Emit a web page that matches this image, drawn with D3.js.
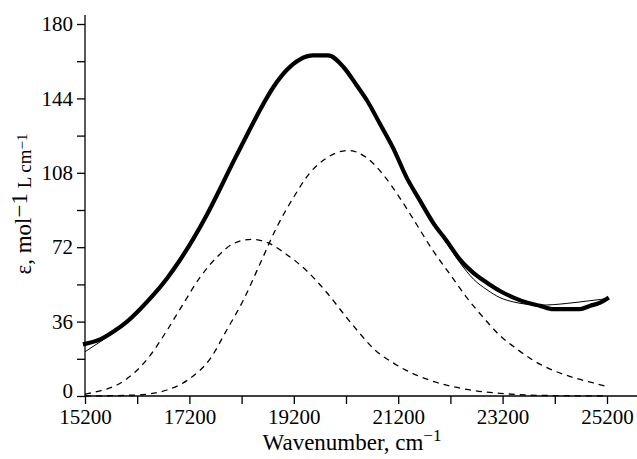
<!DOCTYPE html>
<html>
<head>
<meta charset="utf-8">
<script src="https://cdn.jsdelivr.net/npm/d3@7"></script>
<style>
  body { margin: 0; background: #fff; }
  text { font-family: "Liberation Serif", "Times New Roman", serif; fill: #000; }
</style>
</head>
<body>
<svg id="chart" width="637" height="459"></svg>
<script>
// wavenumber (cm-1) and epsilon values
var EXP_X = [15200, 15490, 15740, 16000, 16250, 16510, 16770, 17020, 17280, 17530, 17790, 18040, 18300,
  18550, 18810, 19060, 19320, 19570, 19860, 20150, 20400, 20600, 20850, 21110, 21360, 21620, 21870,
  22130, 22380, 22640, 22900, 23150, 23410, 23660, 23920, 24170, 24430, 24680, 24870, 25070, 25200];
var EXP_Y = [25.2, 27.4, 31.1, 35.9, 41.9, 48.9, 56.9, 65.8, 76.3, 87.5, 100.4, 113.3, 126.2,
  138.3, 149.5, 157.6, 162.9, 164.8, 164.8, 159.2, 150.5, 143.1, 131.7, 119.6, 105.8, 94.4, 83.8,
  75, 66.1, 59.6, 54.8, 50.8, 47.6, 45.2, 43.6, 42, 42, 42, 43.6, 45.2, 47.1];

var FIT_X = [15200, 15490, 15740, 16000, 16250, 16510, 16770, 17020, 17280, 17530, 17790, 18040, 18300,
  18550, 18810, 19060, 19320, 19570, 19860, 20150, 20400, 20600, 20850, 21110, 21360, 21620, 21870,
  22130, 22380, 22640, 22900, 23150, 23410, 23660, 23920, 24170, 24430, 24680, 24870, 25070, 25200];
var FIT_Y = [21.4, 26.2, 30.6, 35.9, 41.9, 48.9, 56.9, 65.8, 76.3, 87.5, 100.4, 113.3, 126.2,
  138.3, 149.5, 157.6, 162.7, 164.3, 164.2, 159.2, 150.5, 143.1, 131.7, 119.6, 105.8, 94.4, 83.4,
  73.8, 64.6, 56.6, 51.4, 47.6, 45.5, 44.4, 44.0, 44.2, 44.8, 45.5, 46.1, 46.7, 47.1];

var BAND1_X = [15200, 15490, 15810, 16130, 16450, 16770, 17080, 17400, 17720, 18040, 18390, 18740, 19060,
  19450, 19830, 20210, 20470, 20720, 21110, 21550, 22000, 22510, 23150, 23920, 25200];
var BAND1_Y = [0.9, 2.5, 5.3, 10.9, 19.7, 31.7, 44.5, 57.3, 67, 73.7, 75.8, 73.7, 68.5,
  60.5, 50.1, 38, 30.1, 23.1, 15.9, 10.1, 6.1, 3.2, 1.3, 0.3, 0];

var BAND2_X = [15200, 16190, 16770, 17210, 17600, 17910, 18230, 18550, 18870, 19190, 19510, 19830, 20250,
  20600, 20910, 21230, 21550, 21870, 22190, 22510, 22830, 23150, 23470, 23790, 24170, 24560, 24940, 25200];
var BAND2_Y = [0, 0.5, 2.9, 8.5, 18.1, 31.7, 46.2, 63.8, 81.5, 95.9, 108, 115.2, 118.8,
  115.2, 107.2, 95.9, 83.1, 70.2, 59, 47.7, 38, 29.2, 22.8, 17.2, 12.4, 8.9, 6.3, 4.6];

var X_TICKS = [15200, 16200, 17200, 18200, 19200, 20200, 21200, 22200, 23200, 24200, 25200];
var X_LABELS = [15200, 17200, 19200, 21200, 23200, 25200];
var Y_TICKS = [0, 18, 36, 54, 72, 90, 108, 126, 144, 162, 180];
var Y_LABELS = [0, 36, 72, 108, 144, 180];

var svg = d3.select('#chart');

var x = d3.scaleLinear().domain([15200, 25200]).range([85, 607]);
var y = d3.scaleLinear().domain([0, 180]).range([396, 24]);

function zip(xs, ys) { return xs.map(function(v, i) { return [v, ys[i]]; }); }

var line = d3.line()
  .x(function(d) { return x(d[0]); })
  .y(function(d) { return y(d[1]); })
  .curve(d3.curveMonotoneX);

// ----- axes -----
var xAxis = d3.axisBottom(x)
  .tickValues(X_TICKS)
  .tickSize(8)
  .tickFormat(function(d) { return X_LABELS.indexOf(d) >= 0 ? d : ''; });

var gx = svg.append('g')
  .attr('transform', 'translate(0,396)')
  .call(xAxis);
gx.select('.domain').attr('d', 'M85,0H637');
gx.selectAll('text').attr('font-size', 21).attr('dy', '0.85em').attr('y', 10);

var yAxis = d3.axisLeft(y)
  .tickValues(Y_TICKS)
  .tickSize(8)
  .tickFormat(function(d) { return Y_LABELS.indexOf(d) >= 0 ? d : ''; });

var gy = svg.append('g')
  .attr('transform', 'translate(85,0)')
  .call(yAxis);
gy.select('.domain').attr('d', 'M0,396V15');
gy.selectAll('text').attr('font-size', 21).attr('x', -12);
// nudge the zero label up so it clears the 15200 label below it
gy.selectAll('.tick text').filter(function(d) { return d === 0; }).attr('y', -5);

svg.selectAll('.domain, .tick line').attr('stroke', '#000').attr('stroke-width', 1.3);

// ----- curves -----
svg.append('path')
  .attr('d', line(zip(BAND1_X, BAND1_Y)))
  .attr('fill', 'none').attr('stroke', '#000')
  .attr('stroke-width', 1.3).attr('stroke-dasharray', '6,5');

svg.append('path')
  .attr('d', line(zip(BAND2_X, BAND2_Y)))
  .attr('fill', 'none').attr('stroke', '#000')
  .attr('stroke-width', 1.3).attr('stroke-dasharray', '6,5');

svg.append('path')
  .attr('d', line(zip(EXP_X, EXP_Y)))
  .attr('fill', 'none').attr('stroke', '#000')
  .attr('stroke-width', 4.2).attr('stroke-linecap', 'square');

svg.append('path')
  .attr('d', line(zip(FIT_X, FIT_Y)))
  .attr('fill', 'none').attr('stroke', '#000')
  .attr('stroke-width', 1);

// ----- axis titles -----
var xt = svg.append('text')
  .attr('x', 352).attr('y', 450)
  .attr('text-anchor', 'middle')
  .attr('font-size', 23);
xt.append('tspan').text('Wavenumber, cm');
xt.append('tspan').attr('dy', -9).attr('font-size', 17).text('\u22121');

var yt = svg.append('text')
  .attr('transform', 'translate(31,204) rotate(-90)')
  .attr('text-anchor', 'middle')
  .attr('font-size', 23);
yt.append('tspan').text('\u03b5, mol');
yt.append('tspan').attr('dy', -4).text('\u22121');
yt.append('tspan').attr('dy', 4).attr('font-size', 19).text(' L cm');
yt.append('tspan').attr('dy', -4).attr('font-size', 15).text('\u22121');
</script>
</body>
</html>
